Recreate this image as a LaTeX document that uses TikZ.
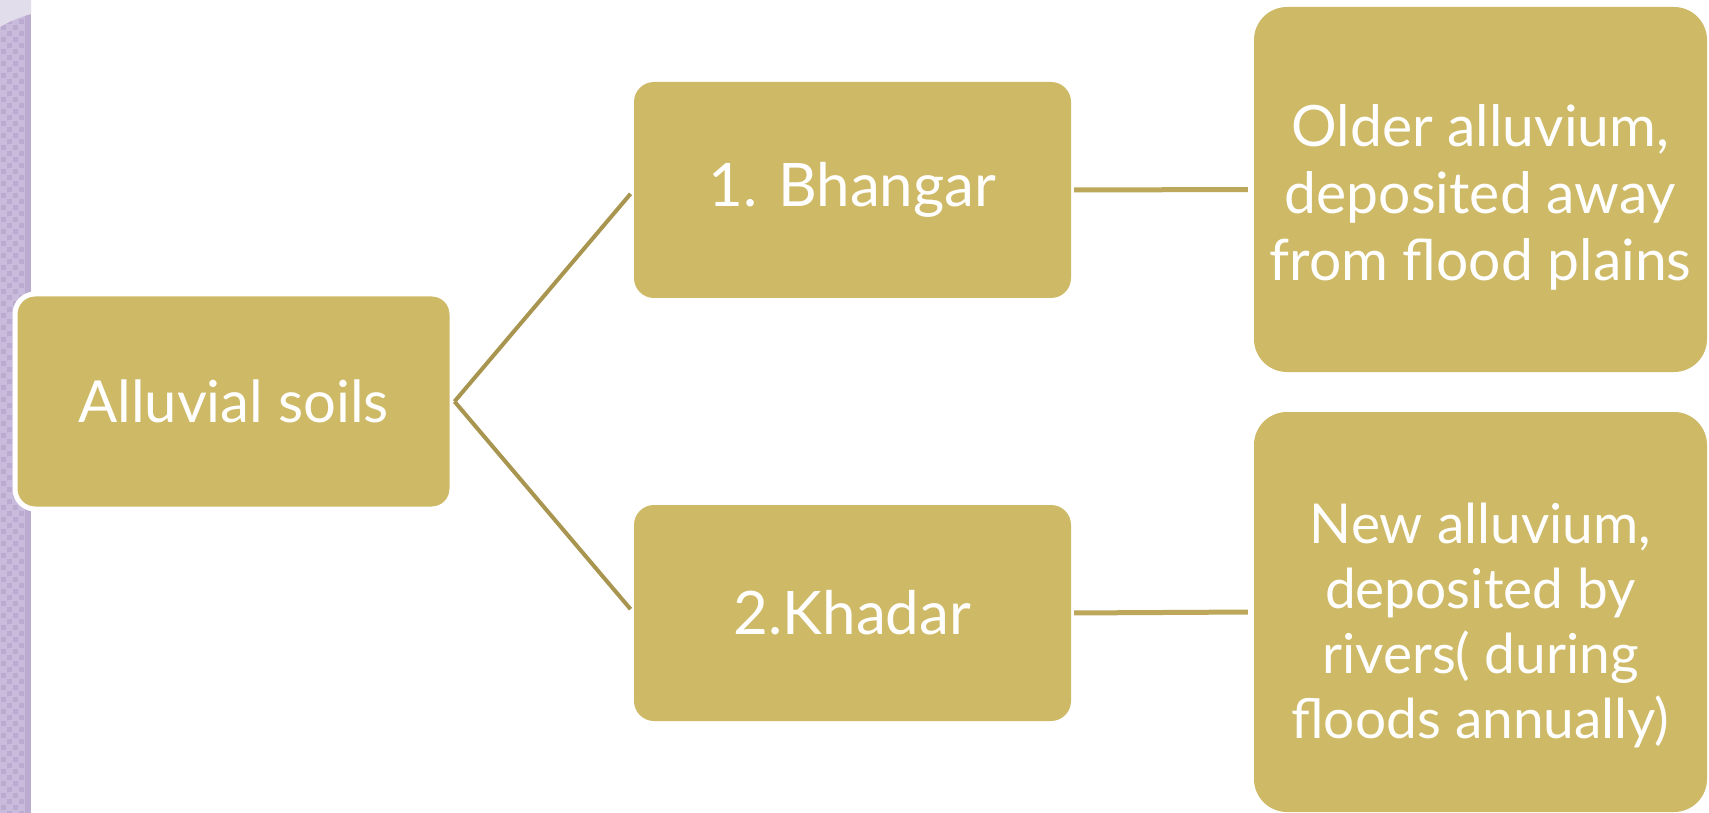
\documentclass[tikz,border=0pt]{standalone}
\usepackage{fontspec}
\setmainfont{Lato}
\usetikzlibrary{positioning}
\definecolor{gold}{HTML}{CEB966}
\definecolor{lnkdark}{HTML}{A8954F}
\definecolor{lnklight}{HTML}{BCA75B}
\definecolor{lav}{HTML}{C9BBDC}
\definecolor{lavdark}{HTML}{BBABD0}
\definecolor{lavlight}{HTML}{E2DDEA}
\newcommand{\lowtxt}[2][16pt]{\raisebox{-#1}[\height][\depth]{\begin{tabular}{@{}c@{}}#2\end{tabular}}}

\begin{document}
\begin{tikzpicture}[x=1pt, y=-1pt, box/.style={fill=gold, text=white, inner sep =0pt, align=center, rounded corners=20pt}, lnk/.style = {draw=lnkdark, line width=4pt}, hlnk/.style = {draw=lnklight, line width=5pt}]
\useasboundingbox (0,0) rectangle (1709,813);
\fill[white] (0,0) rectangle (1709,813);
\fill[lav] (0,0) rectangle (31,813);
\foreach \i in {0,...,67}{
  \foreach \j in {0,1}{
    \fill[lavdark] (\j*12+1,\i*12+1) rectangle ++(5,5);
    \fill[lavdark] (\j*12+7,\i*12+7) rectangle ++(5,5);
  }
}
\fill[lavdark] (25,0) rectangle (31,813);
\fill[lavlight] (0,0) -- (31,0) -- (31,14) .. controls (20,17) and (8,22) .. (0,27) -- cycle;

\node[box, minimum width=437pt, minimum height=215pt, draw=white, line width=5pt, font=\fontsize{58}{66}\selectfont] (soil) at (233.5,401.5) {Alluvial soils};
\foreach \n/\y/\lbl in {bhangar/190/1. Bhangar, khadar/613/2.Khadar}{
  \node[box, minimum width=437pt, minimum height=216pt, font=\fontsize{60}{66}\selectfont] (\n) at (852.5,\y) {\lbl};
}
\node[box, rounded corners=33pt, minimum width=453pt, minimum height=365pt, font=\fontsize{57}{67}\selectfont] (old) at (1480.5,189.5) {\lowtxt[11pt]{Older alluvium,\\deposited away\\from flood plains}};
\node[box, rounded corners=33pt, minimum width=453pt, minimum height=400pt, font=\fontsize{55}{65}\selectfont] (new) at (1480.5,612) {\lowtxt{New alluvium,\\deposited by\\rivers( during\\floods annually)}};

\foreach \n in {bhangar, khadar}{
  \draw[lnk, shorten >=5pt] (soil.east) -- (\n.west);
}
\draw[hlnk, shorten <=3pt, shorten >=6pt] (bhangar.east) -- (old.west);
\draw[hlnk, shorten <=3pt, shorten >=6pt] (khadar.east) -- (new.west);
\end{tikzpicture}
\end{document}
